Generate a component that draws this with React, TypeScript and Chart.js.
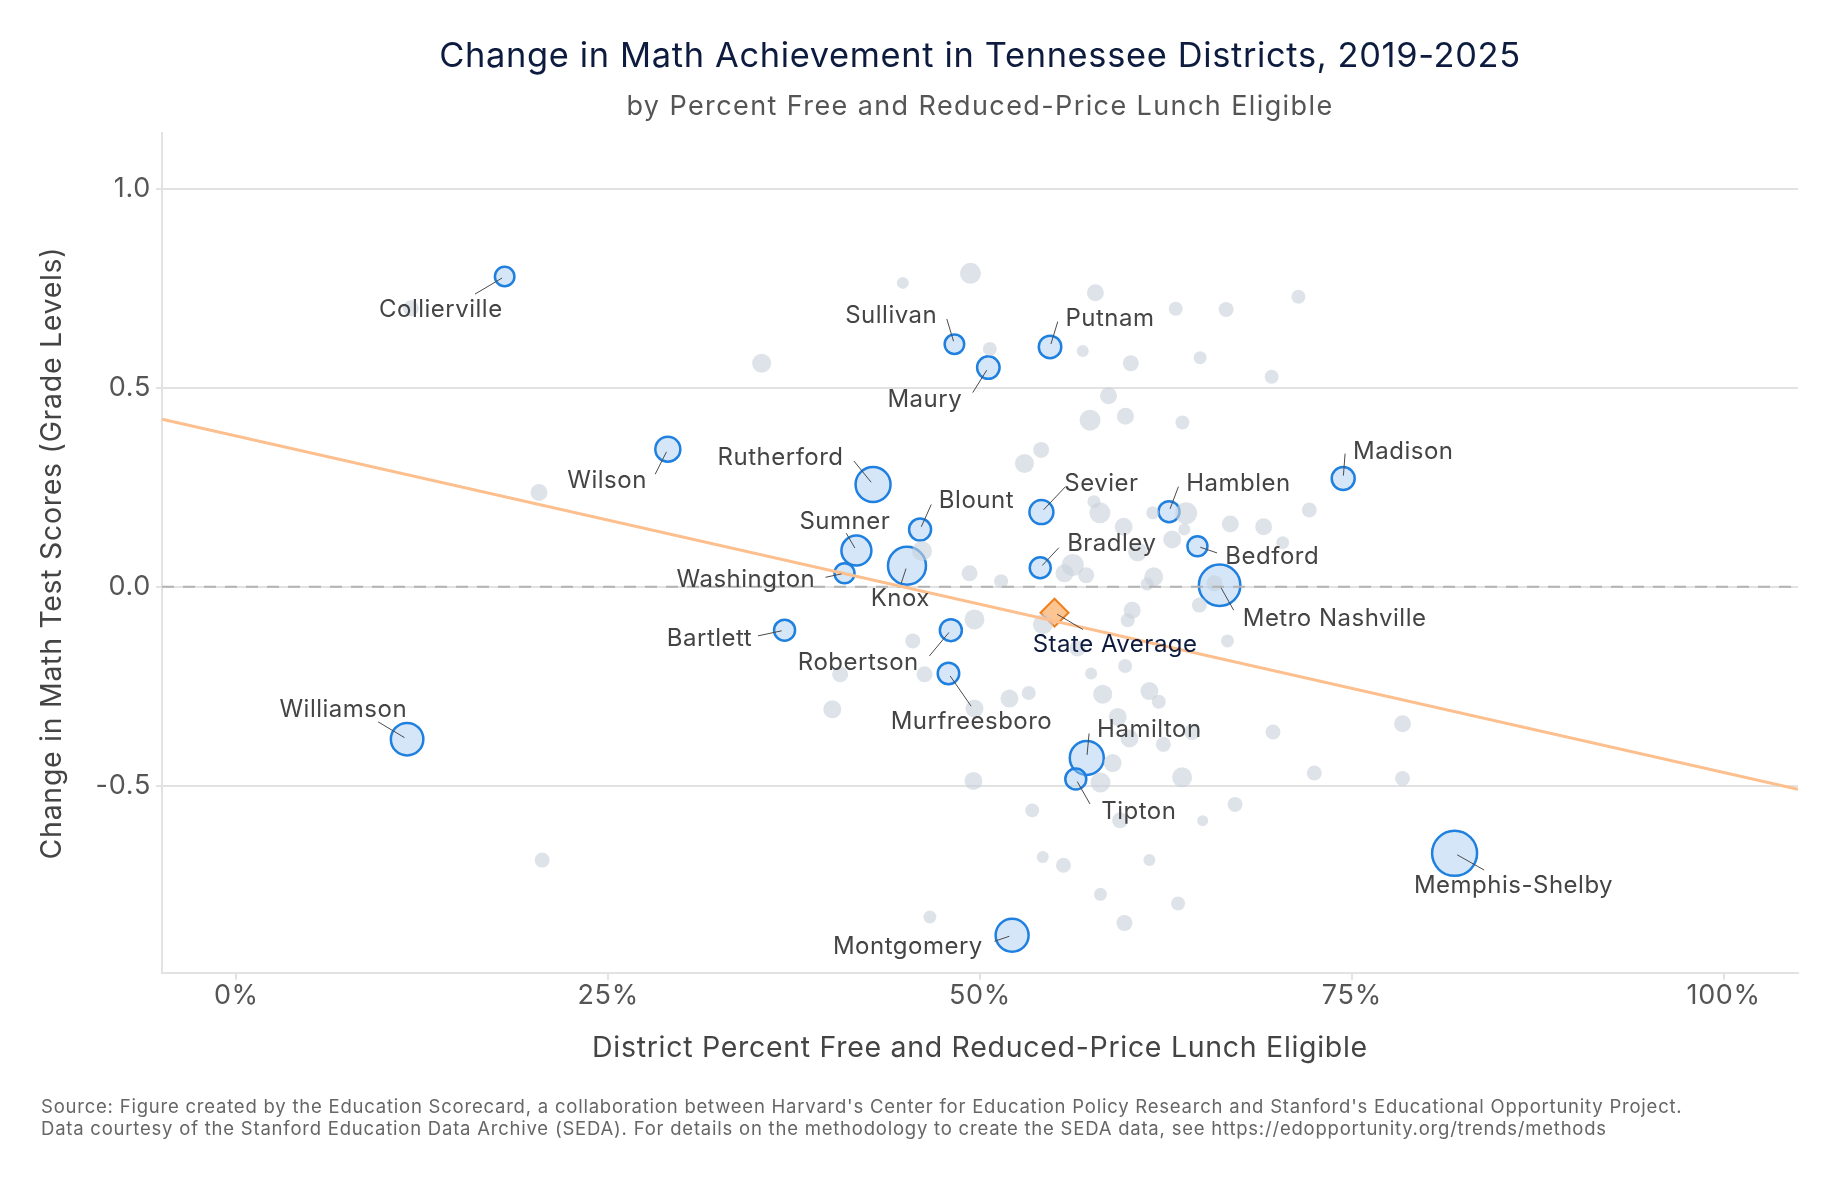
import { useEffect, useRef } from 'react';
import { Chart, registerables } from 'chart.js';

Chart.register(...registerables);

const FONT = 'Inter, "Noto Sans", sans-serif';
const W = 1841;
const H = 1182;

const TITLE = 'Change in Math Achievement in Tennessee Districts, 2019-2025';
const SUBTITLE = 'by Percent Free and Reduced-Price Lunch Eligible';
const X_TITLE = 'District Percent Free and Reduced-Price Lunch Eligible';
const Y_TITLE = 'Change in Math Test Scores (Grade Levels)';
const SOURCE_LINES = [
  "Source: Figure created by the Education Scorecard, a collaboration between Harvard's Center for Education Policy Research and Stanford's Educational Opportunity Project.",
  'Data courtesy of the Stanford Education Data Archive (SEDA). For details on the methodology to create the SEDA data, see https://edopportunity.org/trends/methods',
];

// Axis ticks
const xTicks = [0, 25, 50, 75, 100];
const yTicks = [-0.5, 0, 0.5, 1.0];
const xRange = [-5, 105];
const yRange = [-0.97, 1.14];

// Named districts: % FRL eligible, change in grade levels, bubble radius
const districtNames = [
  'Collierville', 'Williamson', 'Wilson', 'Sullivan', 'Putnam', 'Maury',
  'Rutherford', 'Blount', 'Sumner', 'Washington', 'Knox', 'Sevier',
  'Bradley', 'Hamblen', 'Bedford', 'Metro Nashville', 'Madison', 'Bartlett',
  'Robertson', 'Murfreesboro', 'Hamilton', 'Tipton', 'Memphis-Shelby', 'Montgomery',
];
const districtFrl = [
  18.04, 11.48, 29.01, 48.28, 54.71, 50.56,
  42.81, 45.97, 41.69, 40.89, 45.09, 54.13,
  54.05, 62.71, 64.62, 66.11, 74.42, 36.86,
  48.04, 47.88, 57.18, 56.44, 81.91, 52.16,
];
const districtChange = [
  0.78, -0.383, 0.346, 0.61, 0.603, 0.551,
  0.257, 0.144, 0.091, 0.034, 0.053, 0.188,
  0.048, 0.189, 0.102, 0.004, 0.272, -0.109,
  -0.109, -0.218, -0.43, -0.483, -0.67, -0.876,
];
const districtSize = [
  9.75, 16.25, 12.5, 9.75, 11.25, 11.25,
  17.5, 11, 15, 10, 19, 12,
  10.5, 10.5, 10, 20.75, 11.5, 10.5,
  11, 10.75, 17, 10.5, 22.5, 16.5,
];

// All other districts
const otherFrl = [
  11.74, 20.35, 20.56, 35.32, 44.81, 49.36, 50.66, 56.91, 57.76, 63.16,
  66.55, 71.41, 60.14, 64.8, 69.61, 58.64, 57.4, 59.78, 63.61, 54.11,
  52.99, 57.66, 58.06, 72.14, 61.61, 63.86, 63.74, 59.66, 66.83, 69.07,
  62.92, 70.35, 60.6, 61.68, 61.24, 56.24, 55.68, 57.14, 46.1, 49.3,
  51.42, 49.63, 64.75, 60.23, 59.93, 66.64, 54.23, 56.55, 45.48, 40.6,
  46.27, 40.07, 51.98, 53.28, 49.63, 49.56, 53.51, 54.22, 55.61, 46.63,
  59.76, 57.47, 58.25, 61.39, 62.02, 59.26, 60.05, 62.33, 64.26, 69.7,
  78.41, 58.92, 63.59, 58.1, 72.48, 78.41, 67.15, 64.97, 59.42, 61.39,
  58.1, 63.32, 59.71, 65.76,
];
const otherChange = [
  0.7, 0.237, -0.687, 0.562, 0.764, 0.788, 0.598, 0.593, 0.739, 0.699,
  0.697, 0.729, 0.562, 0.576, 0.528, 0.48, 0.419, 0.429, 0.413, 0.344,
  0.31, 0.214, 0.186, 0.193, 0.186, 0.185, 0.144, 0.151, 0.158, 0.151,
  0.119, 0.111, 0.088, 0.025, 0.007, 0.055, 0.034, 0.029, 0.09, 0.034,
  0.014, -0.082, -0.046, -0.059, -0.084, -0.136, -0.094, -0.155, -0.136, -0.22,
  -0.22, -0.308, -0.281, -0.267, -0.306, -0.488, -0.562, -0.679, -0.7, -0.83,
  -0.199, -0.218, -0.27, -0.262, -0.289, -0.327, -0.381, -0.396, -0.365, -0.365,
  -0.344, -0.443, -0.479, -0.492, -0.468, -0.482, -0.547, -0.588, -0.587, -0.687,
  -0.773, -0.796, -0.845, 0.009,
];
const otherSize = [
  8, 8.5, 7.5, 9.5, 6, 10.5, 7, 6, 8.5, 7,
  7.5, 7, 8, 6.5, 7, 8.5, 10.5, 8.5, 7, 8,
  9.5, 6.5, 10.5, 7.5, 6.5, 11, 6, 9, 8.5, 8.5,
  9, 6.5, 9.5, 9.5, 6.5, 11, 9, 8, 10, 8,
  7, 10, 7.5, 8.5, 7, 6.5, 10, 8, 7.5, 8,
  8, 9, 9, 7, 9, 9, 7, 6, 7.5, 6.5,
  7, 6, 9.5, 9, 7, 9, 9, 7.5, 8, 7.5,
  8.5, 9, 10, 10, 7.5, 7.5, 7.5, 5.5, 8, 6,
  6.5, 7, 8, 8,
];

// State average and fitted line
const stateFrl = [55.01];
const stateChange = [-0.065];
const trendFrl = [-5, 105];
const trendChange = [0.421, -0.509];
const zeroFrl = [-5, 105];
const zeroChange = [0, 0];

// Label placement around each marker: text offset, alignment, leader-line start
type LabelSpot = { dx: number; dy: number; align: CanvasTextAlign; lx: number; ly: number };
const labelSpots: Record<string, LabelSpot> = {
  Collierville: { dx: -2, dy: 40, align: 'right', lx: -29.7, ly: 17.6 },
  Williamson: { dx: 0, dy: -21.7, align: 'right', lx: -28.9, ly: -17.3 },
  Wilson: { dx: -21, dy: 39.3, align: 'right', lx: -12.6, ly: 25 },
  Sullivan: { dx: -17.2, dy: -21.4, align: 'right', lx: -7.6, ly: -25.1 },
  Putnam: { dx: 15.4, dy: -21.3, align: 'left', lx: 7.7, ly: -25.3 },
  Maury: { dx: -26.2, dy: 39.6, align: 'right', lx: -15.6, ly: 25 },
  Rutherford: { dx: -29.5, dy: -19.3, align: 'right', lx: -19.2, ly: -23.6 },
  Blount: { dx: 18.8, dy: -22, align: 'left', lx: 11.2, ly: -25 },
  Sumner: { dx: -11.6, dy: -21.4, align: 'center', lx: -10.2, ly: -17.4 },
  Washington: { dx: -29.3, dy: 13.4, align: 'right', lx: -19, ly: 4 },
  Knox: { dx: -6.7, dy: 40.3, align: 'center', lx: -5.8, ly: 17.6 },
  Sevier: { dx: 22.9, dy: -21.3, align: 'left', lx: 24, ly: -25.3 },
  Bradley: { dx: 26.9, dy: -17, align: 'left', lx: 18.6, ly: -20 },
  Hamblen: { dx: 17.1, dy: -21, align: 'left', lx: 9.4, ly: -25 },
  Bedford: { dx: 27.9, dy: 17.3, align: 'left', lx: 19.6, ly: 6.7 },
  'Metro Nashville': { dx: 23.1, dy: 40.7, align: 'left', lx: 14.1, ly: 25 },
  Madison: { dx: 9.9, dy: -20, align: 'left', lx: 1.9, ly: -25 },
  Bartlett: { dx: -32.4, dy: 15.7, align: 'right', lx: -26.6, ly: 5.7 },
  Robertson: { dx: -32.1, dy: 40, align: 'right', lx: -21.4, ly: 25.7 },
  Murfreesboro: { dx: 23, dy: 55, align: 'center', lx: 22.7, ly: 32.7 },
  Hamilton: { dx: 10.3, dy: -20.4, align: 'left', lx: 2.3, ly: -24.4 },
  Tipton: { dx: 25.4, dy: 40, align: 'left', lx: 14.2, ly: 25 },
  'Memphis-Shelby': { dx: 58.9, dy: 40, align: 'center', lx: 29.6, ly: 16.7 },
  Montgomery: { dx: -29.3, dy: 18.3, align: 'right', lx: -17.6, ly: 6 },
  'State Average': { dx: -21.8, dy: 39.2, align: 'left', lx: 28.4, ly: 16.8 },
};

const setSpacing = (ctx: CanvasRenderingContext2D, px: number) => {
  (ctx as any).letterSpacing = `${px}px`;
};

const drawLabel = (ctx: CanvasRenderingContext2D, px: number, py: number, text: string, spot: LabelSpot, color: string) => {
  const sx = px + spot.lx;
  const sy = py + spot.ly;
  const len = Math.hypot(spot.lx, spot.ly) || 1;
  const ex = px + (spot.lx / len) * 3;
  const ey = py + (spot.ly / len) * 3;
  ctx.beginPath();
  ctx.moveTo(sx, sy);
  ctx.lineTo(ex, ey);
  ctx.strokeStyle = '#4a4a4a';
  ctx.lineWidth = 1;
  ctx.stroke();
  ctx.fillStyle = color;
  ctx.textAlign = spot.align;
  ctx.textBaseline = 'alphabetic';
  ctx.fillText(text, px + spot.dx, py + spot.dy);
};

// Slightly open tracking for all text the library draws (ticks, axis titles)
const trackingPlugin = {
  id: 'tracking',
  beforeDraw(chart: Chart) {
    setSpacing(chart.ctx, 0.7);
  },
};

const labelPlugin = {
  id: 'districtLabels',
  afterDatasetsDraw(chart: Chart) {
    const ctx = chart.ctx;
    const xs = chart.scales.x;
    const ys = chart.scales.y;
    ctx.save();
    ctx.font = `24px ${FONT}`;
    setSpacing(ctx, 0.5);
    districtNames.forEach((name, i) => {
      const px = xs.getPixelForValue(districtFrl[i]);
      const py = ys.getPixelForValue(districtChange[i]);
      drawLabel(ctx, px, py, name, labelSpots[name], '#444444');
    });
    const sx = xs.getPixelForValue(stateFrl[0]);
    const sy = ys.getPixelForValue(stateChange[0]);
    drawLabel(ctx, sx, sy, 'State Average', labelSpots['State Average'], '#0d1b3e');
    ctx.restore();
  },
};

const frameTextPlugin = {
  id: 'frameText',
  afterDraw(chart: Chart) {
    const ctx = chart.ctx;
    const { left, right } = chart.chartArea;
    const cx = (left + right) / 2;
    ctx.save();
    ctx.textBaseline = 'alphabetic';
    ctx.textAlign = 'center';
    ctx.fillStyle = '#0d1b3e';
    ctx.font = `34.4px ${FONT}`;
    setSpacing(ctx, 0.66);
    ctx.fillText(TITLE, cx, 66.7);
    ctx.fillStyle = '#555555';
    ctx.font = `27px ${FONT}`;
    setSpacing(ctx, 1.4);
    ctx.fillText(SUBTITLE, cx, 115);
    ctx.textAlign = 'left';
    ctx.fillStyle = '#666666';
    ctx.font = `18.5px ${FONT}`;
    setSpacing(ctx, 0.78);
    ctx.fillText(SOURCE_LINES[0], 41, 1112.7);
    ctx.fillText(SOURCE_LINES[1], 41, 1135);
    ctx.restore();
  },
};

export default function App() {
  const canvasRef = useRef<HTMLCanvasElement | null>(null);

  useEffect(() => {
    const canvas = canvasRef.current;
    if (!canvas) return;

    const gridColor = '#e2e2e2';

    const chart = new Chart(canvas, {
      type: 'bubble',
      data: {
        datasets: [
          {
            type: 'line',
            label: 'Trend',
            data: trendFrl.map((x, i) => ({ x, y: trendChange[i] })),
            borderColor: '#fcbf8d',
            borderWidth: 3,
            pointRadius: 0,
            fill: false,
          } as any,
          {
            type: 'line',
            label: 'Zero',
            data: zeroFrl.map((x, i) => ({ x, y: zeroChange[i] })),
            borderColor: '#b3b3b3',
            borderWidth: 2,
            borderDash: [12, 9],
            pointRadius: 0,
            fill: false,
          } as any,
          {
            label: 'Other districts',
            data: otherFrl.map((x, i) => ({ x, y: otherChange[i], r: otherSize[i] })),
            backgroundColor: 'rgba(200,208,218,0.6)',
            borderWidth: 0,
          },
          {
            label: 'Named districts',
            data: districtFrl.map((x, i) => ({ x, y: districtChange[i], r: districtSize[i] })),
            backgroundColor: 'rgba(160,200,240,0.45)',
            borderColor: '#1f80e0',
            borderWidth: 2.5,
          },
          {
            label: 'State Average',
            data: stateFrl.map((x, i) => ({ x, y: stateChange[i], r: 14 })),
            backgroundColor: '#fdc592',
            borderColor: '#f0801f',
            borderWidth: 2,
            pointStyle: 'rectRot',
          },
        ],
      },
      options: {
        responsive: false,
        animation: false,
        devicePixelRatio: 1,
        events: [],
        layout: { padding: { top: 133.3, right: 43, left: 0, bottom: 0 } },
        plugins: {
          legend: { display: false },
          tooltip: { enabled: false },
          title: { display: false },
        },
        scales: {
          x: {
            type: 'linear',
            min: xRange[0],
            max: xRange[1],
            afterBuildTicks: (s: any) => {
              s.ticks = xTicks.map((v) => ({ value: v }));
            },
            afterFit: (s: any) => {
              s.height = H - 972.7;
            },
            grid: { drawOnChartArea: false, color: gridColor, lineWidth: 2, tickLength: 7 },
            border: { display: true, color: gridColor, width: 2 },
            ticks: {
              padding: 0,
              color: '#555555',
              font: { family: FONT, size: 27 },
              callback: (v: any) => `${v}%`,
            },
            title: {
              display: true,
              text: X_TITLE,
              color: '#444444',
              font: { family: FONT, size: 28.5, lineHeight: 1.2 },
              padding: { top: 0, bottom: 116.6 },
            },
          },
          y: {
            type: 'linear',
            min: yRange[0],
            max: yRange[1],
            afterBuildTicks: (s: any) => {
              s.ticks = yTicks.map((v) => ({ value: v }));
            },
            afterFit: (s: any) => {
              s.width = 162;
            },
            grid: { color: gridColor, lineWidth: 2, tickLength: 6 },
            border: { display: true, color: gridColor, width: 2 },
            ticks: {
              padding: 5,
              color: '#555555',
              font: { family: FONT, size: 27 },
              callback: (v: any) => Number(v).toFixed(1),
            },
            title: {
              display: true,
              text: Y_TITLE,
              color: '#444444',
              font: { family: FONT, size: 28.5, lineHeight: 1.2 },
              padding: { top: 35.7, bottom: 0 },
            },
          },
        },
      },
      plugins: [trackingPlugin, labelPlugin, frameTextPlugin],
    });

    return () => chart.destroy();
  }, []);

  return (
    <div style={{ position: 'absolute', left: 0, top: 0, width: W, height: H, background: '#ffffff' }}>
      <canvas ref={canvasRef} width={W} height={H} style={{ display: 'block', width: W, height: H }} />
    </div>
  );
}
